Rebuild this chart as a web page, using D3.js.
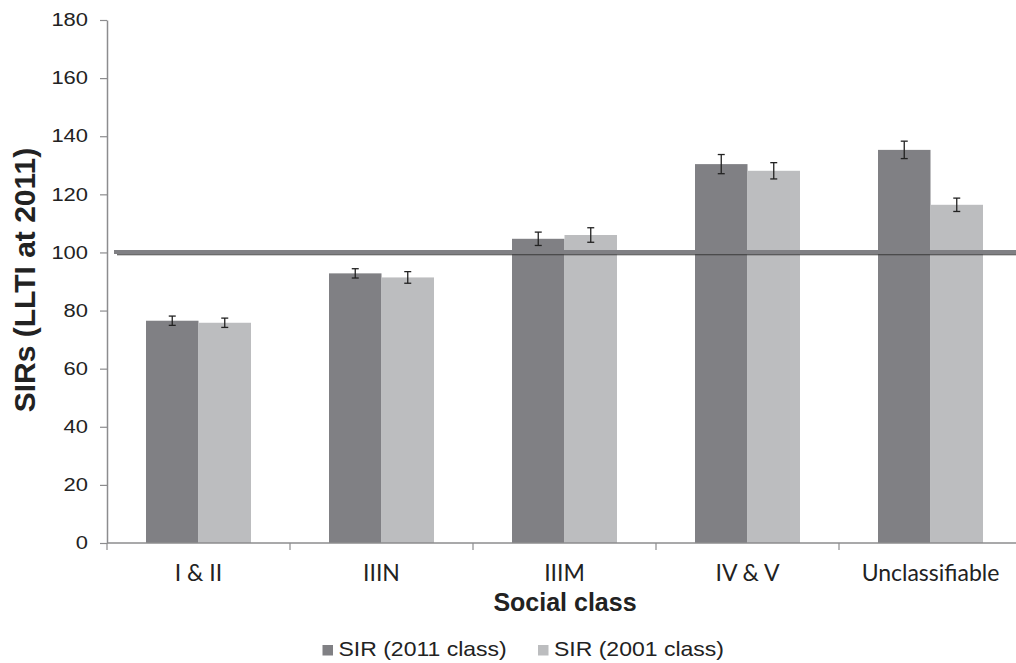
<!DOCTYPE html>
<html>
<head>
<meta charset="utf-8">
<script src="https://cdn.jsdelivr.net/npm/d3@7"></script>
<style>
  body { margin: 0; background: #fff; }
  svg { display: block; }
</style>
</head>
<body>
<svg width="1016" height="663"></svg>
<script>
var categories = ["I & II", "IIIN", "IIIM", "IV & V", "Unclassifiable"];
var seriesNames = ["SIR (2011 class)", "SIR (2001 class)"];
var sir2011 = [76.5, 92.8, 104.7, 130.4, 135.3];
var sir2001 = [75.8, 91.4, 106.0, 128.1, 116.4];
var err2011 = [1.6, 1.6, 2.3, 3.3, 3.0];
var err2001 = [1.6, 2.0, 2.5, 2.8, 2.3];
var yTicks = [0, 20, 40, 60, 80, 100, 120, 140, 160, 180];
var refValue = 100;

var colors = ["#808084", "#bcbdbf"];

var svg = d3.select("svg"),
    margin = {left: 107, right: 0, top: 20, bottom: 120},
    width = +svg.attr("width"),
    height = +svg.attr("height"),
    x0 = margin.left,
    y0 = height - margin.bottom;

var x = d3.scaleBand()
    .domain(categories)
    .range([x0, x0 + 183 * categories.length]);

var xs = d3.scaleBand()
    .domain([0, 1])
    .range([0, 105]);

var y = d3.scaleLinear()
    .domain([0, 180])
    .range([y0, margin.top]);

var data = categories.map(function(c, i) {
  return [
    {cat: c, s: 0, v: sir2011[i], e: err2011[i]},
    {cat: c, s: 1, v: sir2001[i], e: err2001[i]}
  ];
});

// bars
var groups = svg.selectAll(".grp")
    .data(data)
  .enter().append("g")
    .attr("class", "grp")
    .attr("transform", function(d) { return "translate(" + (x(d[0].cat) + x.bandwidth() / 2 - 52.5) + ",0)"; });

groups.selectAll("rect")
    .data(function(d) { return d; })
  .enter().append("rect")
    .attr("x", function(d) { return xs(d.s); })
    .attr("width", xs.bandwidth())
    .attr("y", function(d) { return y(d.v); })
    .attr("height", function(d) { return y(0) - y(d.v); })
    .attr("fill", function(d) { return colors[d.s]; });

// reference line at 100
svg.append("line")
    .attr("x1", 114).attr("x2", width)
    .attr("y1", y(refValue) - 0.5).attr("y2", y(refValue) - 0.5)
    .attr("stroke", "#808084").attr("stroke-width", 4);
svg.append("line")
    .attr("x1", 117).attr("x2", width)
    .attr("y1", y(refValue) + 2.3).attr("y2", y(refValue) + 2.3)
    .attr("stroke", "#3a3a3a").attr("stroke-width", 1.2);

// error bars
var eb = groups.selectAll(".eb")
    .data(function(d) { return d; })
  .enter().append("g")
    .attr("class", "eb")
    .attr("stroke", "#222")
    .attr("stroke-width", 1.3);

eb.append("line")
    .attr("x1", function(d) { return xs(d.s) + xs.bandwidth() / 2; })
    .attr("x2", function(d) { return xs(d.s) + xs.bandwidth() / 2; })
    .attr("y1", function(d) { return y(d.v + d.e); })
    .attr("y2", function(d) { return y(d.v - d.e); });
eb.selectAll(".cap")
    .data(function(d) { return [d.v + d.e, d.v - d.e].map(function(v) { return {s: d.s, v: v}; }); })
  .enter().append("line")
    .attr("x1", function(d) { return xs(d.s) + xs.bandwidth() / 2 - 3.5; })
    .attr("x2", function(d) { return xs(d.s) + xs.bandwidth() / 2 + 3.5; })
    .attr("y1", function(d) { return y(d.v); })
    .attr("y2", function(d) { return y(d.v); });

// y axis
var yAxis = svg.append("g")
    .attr("transform", "translate(" + x0 + ",0)")
    .call(d3.axisLeft(y).tickValues(yTicks).tickSize(7).tickSizeOuter(0).tickPadding(12));
yAxis.select(".domain").attr("stroke", "#8c8c8e").attr("stroke-width", 1.5);
yAxis.selectAll(".tick line").attr("stroke", "#8c8c8e").attr("stroke-width", 1.2);
yAxis.selectAll("text")
    .attr("fill", "#222")
    .attr("x", -19 / 1.22)
    .attr("transform", "scale(1.22,1)")
    .style("font-family", "'Liberation Sans', Arial, sans-serif")
    .style("font-size", "18px");

// x axis
var xAxis = svg.append("g")
    .attr("transform", "translate(0," + y0 + ")");
xAxis.append("line")
    .attr("x1", x0).attr("x2", width)
    .attr("y1", 0).attr("y2", 0)
    .attr("stroke", "#8c8c8e").attr("stroke-width", 1.5);
xAxis.selectAll(".xt")
    .data(categories.map(function(c) { return x(c); }).concat([x(categories[categories.length - 1]) + x.bandwidth()]))
  .enter().append("line")
    .attr("x1", function(d) { return d; }).attr("x2", function(d) { return d; })
    .attr("y1", 0).attr("y2", 7)
    .attr("stroke", "#8c8c8e").attr("stroke-width", 1.2);
xAxis.selectAll(".xl")
    .data(categories)
  .enter().append("text")
    .attr("x", function(d) { return x(d) + x.bandwidth() / 2; })
    .attr("y", 38)
    .attr("text-anchor", "middle")
    .attr("fill", "#222")
    .style("font-family", "Lato, sans-serif")
    .style("font-size", "23px")
    .text(function(d) { return d; });

// axis titles
svg.append("text")
    .attr("x", 565)
    .attr("y", 611)
    .attr("text-anchor", "middle")
    .attr("fill", "#222")
    .style("font-family", "'Liberation Sans', Arial, sans-serif")
    .style("font-size", "25px")
    .style("font-weight", "bold")
    .text("Social class");

svg.append("text")
    .attr("transform", "translate(35,280) rotate(-90)")
    .attr("text-anchor", "middle")
    .attr("fill", "#222")
    .style("font-family", "'Liberation Sans', Arial, sans-serif")
    .style("font-size", "30px")
    .style("font-weight", "bold")
    .text("SIRs (LLTI at 2011)");

// legend
var legX = [322.5, 538];
var leg = svg.selectAll(".leg")
    .data(seriesNames)
  .enter().append("g")
    .attr("class", "leg")
    .attr("transform", function(d, i) { return "translate(" + legX[i] + ",645)"; });
leg.append("rect")
    .attr("x", 0).attr("y", 0)
    .attr("width", 10.5).attr("height", 10.5)
    .attr("fill", function(d, i) { return colors[i]; });
leg.append("text")
    .attr("x", 16 / 1.15).attr("y", 11)
    .attr("transform", "scale(1.15,1)")
    .attr("fill", "#222")
    .style("font-family", "'Liberation Sans', Arial, sans-serif")
    .style("font-size", "20px")
    .text(function(d) { return d; });
</script>
</body>
</html>
